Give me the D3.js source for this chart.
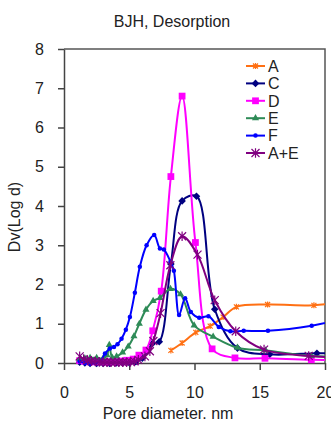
<!DOCTYPE html>
<html>
<head>
<meta charset="utf-8">
<script src="https://cdn.jsdelivr.net/npm/d3@7"></script>
<style>
  body { margin: 0; background: #fff; }
  svg text { font-family: "Liberation Sans", Arial, sans-serif; fill: #222; }
</style>
</head>
<body>
<svg id="chart" width="331" height="421"></svg>
<script>
// pore diameter (nm) and Dv(Log d) per sample
const aX = [8.19, 9.05, 10.1, 11.2, 12.19, 13.21, 15.6, 19.15, 21];
const aY = [0.32, 0.51, 0.78, 0.94, 1.17, 1.43, 1.49, 1.47, 1.54];

const cX = [1.2, 1.6, 2.0, 2.5, 3.0, 3.5, 4.0, 4.5, 5.0, 5.5, 6.0, 6.4, 6.78, 7.3, 8.19, 9.05, 10.15, 11.55, 13.29, 15.76, 19.38, 21];
const cY = [0.02, 0.0, -0.01, -0.01, -0.01, -0.01, 0.0, 0.0, 0.01, 0.03, 0.12, 0.3, 0.5, 0.54, 2.52, 4.13, 4.25, 1.37, 0.38, 0.22, 0.25, 0.25];

const dX = [1.2, 1.6, 2.0, 2.4, 2.8, 3.2, 3.6, 4.0, 4.4, 4.8, 5.3, 5.74, 6.28, 6.8, 7.45, 8.19, 9.05, 10.07, 11.35, 13.1, 15.4, 18.95, 21];
const dY = [0.06, 0.04, 0.03, 0.03, 0.03, 0.03, 0.03, 0.04, 0.05, 0.07, 0.1, 0.2, 0.33, 0.82, 1.83, 4.75, 6.8, 3.07, 0.36, 0.13, 0.12, 0.08, 0.08];

const eX = [1.2, 1.6, 2.0, 2.5, 3.0, 3.3, 3.47, 3.7, 4.03, 4.49, 4.92, 5.36, 5.77, 6.28, 6.83, 7.35, 8.16, 8.93, 9.97, 11.43, 13.29, 15.45, 18.95, 21];
const eY = [0.1, 0.12, 0.13, 0.13, 0.12, 0.2, 0.46, 0.14, 0.17, 0.27, 0.42, 0.68, 1.0, 1.36, 1.58, 1.66, 1.89, 1.75, 0.96, 0.67, 0.39, 0.32, 0.18, 0.16];

const fX = [1.2, 1.6, 2.0, 2.4, 2.8, 3.14, 3.52, 3.83, 4.1, 4.41, 4.74, 5.05, 5.43, 5.81, 6.33, 6.91, 7.35, 7.65, 8.16, 8.42, 8.82, 9.28, 9.72, 10.36, 11.07, 11.86, 12.75, 13.77, 15.63, 18.98, 21];
const fY = [0.04, 0.0, -0.01, 0.0, 0.05, 0.24, 0.37, 0.41, 0.48, 0.62, 0.85, 1.17, 1.79, 2.45, 3.0, 3.26, 2.92, 2.89, 2.58, 2.35, 1.22, 1.65, 1.3, 1.15, 1.19, 0.92, 0.81, 0.82, 0.82, 0.95, 1.1];

const aeX = [1.2, 1.5, 1.8, 2.1, 2.4, 2.7, 3.0, 3.3, 3.6, 3.9, 4.2, 4.5, 4.8, 5.1, 5.4, 5.7, 6.2, 6.58, 6.85, 7.4, 8.15, 9.05, 10.23, 11.55, 13.16, 15.33, 18.75, 21];
const aeY = [0.17, 0.1, 0.07, 0.05, 0.04, 0.03, 0.02, 0.02, 0.02, 0.02, 0.02, 0.02, 0.02, 0.03, 0.04, 0.08, 0.17, 0.3, 0.56, 1.27, 2.49, 3.23, 2.76, 1.6, 0.81, 0.34, 0.18, 0.14];

const seriesNames = ["A", "C", "D", "E", "F", "A+E"];
const xTicks = [0, 5, 10, 15, 20];
const yTicks = [0, 1, 2, 3, 4, 5, 6, 7, 8];

const series = [
  { name: "A",   xs: aX,  ys: aY,  color: "#ff7014", marker: "star",     size: 5 },
  { name: "C",   xs: cX,  ys: cY,  color: "#000080", marker: "diamond",  size: 3.8 },
  { name: "D",   xs: dX,  ys: dY,  color: "#ff00ff", marker: "square",   size: 46 },
  { name: "E",   xs: eX,  ys: eY,  color: "#2e8b57", marker: "triangle", size: 22 },
  { name: "F",   xs: fX,  ys: fY,  color: "#0000ff", marker: "circle",   size: 16 },
  { name: "A+E", xs: aeX, ys: aeY, color: "#800080", marker: "star",     size: 8 }
];

const svg = d3.select("#chart");
const pLeft = 64, pRight = 325, pTop = 49, pBottom = 363;

const x = d3.scaleLinear().domain([0, 20]).range([pLeft, pRight]);
const y = d3.scaleLinear().domain([0, 8]).range([pBottom, pTop]);

// title
svg.append("text")
  .attr("x", 172).attr("y", 27)
  .attr("text-anchor", "middle")
  .style("font-size", "16px")
  .text("BJH, Desorption");

// frame top / right
svg.append("path")
  .attr("d", `M${pLeft},${pTop}H${pRight}V${pBottom}`)
  .attr("fill", "none")
  .attr("stroke", "#555")
  .attr("stroke-width", 1.5);

// axes
const yAxis = svg.append("g")
  .attr("transform", `translate(${pLeft},0)`)
  .call(d3.axisLeft(y).tickValues(yTicks).tickFormat(d3.format("d")).tickSize(6).tickPadding(14).tickSizeOuter(0));

const xAxis = svg.append("g")
  .attr("transform", `translate(0,${pBottom})`)
  .call(d3.axisBottom(x).tickValues(xTicks).tickFormat(d3.format("d")).tickSize(7).tickPadding(17).tickSizeOuter(0));

[yAxis, xAxis].forEach(g => {
  g.selectAll("path, line").attr("stroke", "#444").attr("stroke-width", 1.5);
  g.selectAll("text").style("font-size", "16px").attr("fill", "#222");
});

// axis titles
svg.append("text")
  .attr("x", 168).attr("y", 419)
  .attr("text-anchor", "middle")
  .style("font-size", "16px")
  .text("Pore diameter. nm");

svg.append("text")
  .attr("transform", "translate(20,217) rotate(-90)")
  .attr("text-anchor", "middle")
  .style("font-size", "16px")
  .text("Dv(Log d)");

svg.append("clipPath").attr("id", "plot-clip")
  .append("rect")
  .attr("x", pLeft).attr("y", pTop - 10)
  .attr("width", pRight - pLeft).attr("height", pBottom - pTop + 20);

function markerPath(kind, size) {
  if (kind === "star") {
    const s = size / 2;
    return `M${-s},${-s}L${s},${s}M${-s},${s}L${s},${-s}M0,${-s * 1.2}V${s * 1.2}`;
  }
  if (kind === "diamond") {
    return `M0,${-size}L${size},0L0,${size}L${-size},0Z`;
  }
  const types = {
    square: d3.symbolSquare,
    triangle: d3.symbolTriangle,
    circle: d3.symbolCircle
  };
  return d3.symbol().type(types[kind]).size(size)();
}

function drawMarker(g, s, px, py) {
  const p = g.append("path")
    .attr("transform", `translate(${px},${py})`)
    .attr("d", markerPath(s.marker, s.size));
  if (s.marker === "star") {
    p.attr("fill", "none").attr("stroke", s.color).attr("stroke-width", 1.2);
  } else {
    p.attr("fill", s.color);
  }
}

const line = d3.line()
  .x(d => x(d[0]))
  .y(d => y(d[1]))
  .curve(d3.curveCatmullRom.alpha(0.5));

const plot = svg.append("g").attr("clip-path", "url(#plot-clip)");

series.forEach(s => {
  const pts = s.xs.map((v, i) => [v, s.ys[i]]);
  const g = plot.append("g");
  g.append("path")
    .datum(pts)
    .attr("d", line)
    .attr("fill", "none")
    .attr("stroke", s.color)
    .attr("stroke-width", 2);
  pts.forEach(p => drawMarker(g, s, x(p[0]), y(p[1])));
});

// legend
const legend = svg.append("g");
seriesNames.forEach((name, i) => {
  const s = series.find(d => d.name === name);
  const ly = 66 + i * 17.4;
  legend.append("line")
    .attr("x1", 246).attr("x2", 265)
    .attr("y1", ly).attr("y2", ly)
    .attr("stroke", s.color).attr("stroke-width", 2);
  drawMarker(legend, s, 255.5, ly);
  legend.append("text")
    .attr("x", 268).attr("y", ly)
    .attr("dy", "0.36em")
    .style("font-size", "16px")
    .text(name);
});
</script>
</body>
</html>
